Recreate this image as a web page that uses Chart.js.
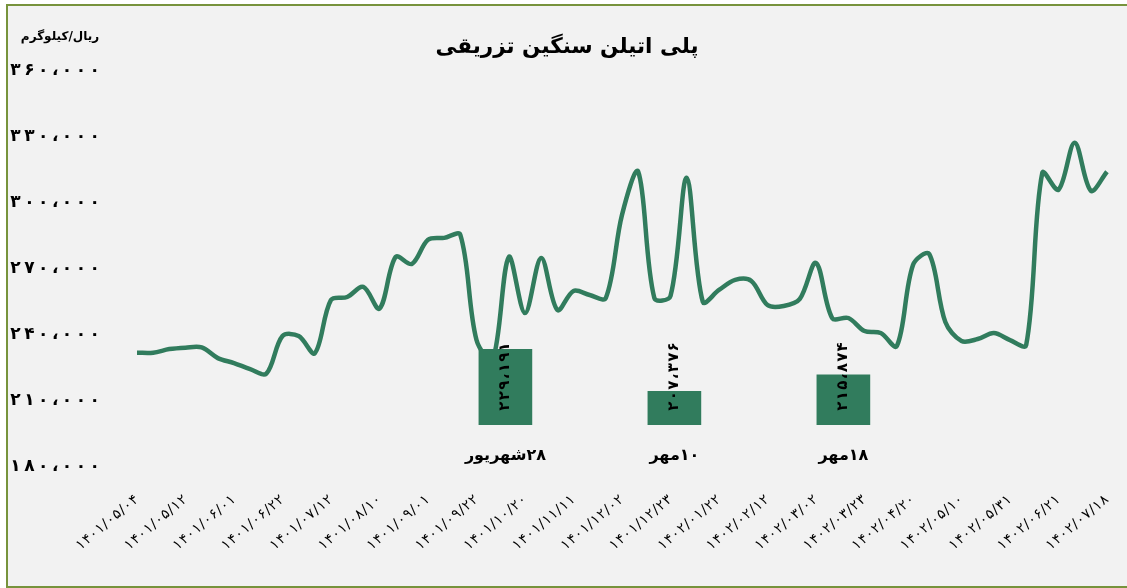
<!DOCTYPE html>
<html>
<head>
<meta charset="utf-8">
<script src="https://cdn.jsdelivr.net/npm/chart.js@4"></script>
<style>
  html, body { margin: 0; padding: 0; background: #fff; }
  .frame { position: absolute; left: 6px; top: 4px; width: 1140px; height: 580px; border: 2px solid #77933c; background: #f2f2f2; }
  #wrap { position: absolute; left: 0; top: 0; width: 1127px; height: 588px; }
</style>
</head>
<body>
<div class="frame"></div>
<div id="wrap"><canvas id="chart"></canvas></div>
<script>
// تاریخ‌های محور افقی (هر سه نقطه یک برچسب)
const dates = [
  '۱۴۰۱/۰۵/۰۴', '۱۴۰۱/۰۵/۱۲', '۱۴۰۱/۰۶/۰۱', '۱۴۰۱/۰۶/۲۲', '۱۴۰۱/۰۷/۱۲',
  '۱۴۰۱/۰۸/۱۰', '۱۴۰۱/۰۹/۰۱', '۱۴۰۱/۰۹/۲۲', '۱۴۰۱/۱۰/۲۰', '۱۴۰۱/۱۱/۱۱',
  '۱۴۰۱/۱۲/۰۲', '۱۴۰۱/۱۲/۲۳', '۱۴۰۲/۰۱/۲۲', '۱۴۰۲/۰۲/۱۲', '۱۴۰۲/۰۳/۰۲',
  '۱۴۰۲/۰۳/۲۳', '۱۴۰۲/۰۴/۲۰', '۱۴۰۲/۰۵/۱۰', '۱۴۰۲/۰۵/۳۱', '۱۴۰۲/۰۶/۲۱',
  '۱۴۰۲/۰۷/۱۸'
];

// قیمت (ریال/کیلوگرم)
const prices = [
  231900, 231900, 233550, 234200, 234300, 229450, 227200, 224450, 222400, 239450,
  239450, 231700, 255850, 257200, 261750, 251950, 275400, 272200, 283150, 284050,
  285400, 237650, 228550, 275400, 249900, 274950, 251300, 259950, 258100, 256750,
  294500, 314100, 256750, 257650, 311350, 254950, 260400, 264950, 264500, 253550,
  253100, 256300, 272700, 247650, 247650, 241750, 240850, 234900, 271750, 276750,
  245850, 237200, 238100, 240850, 237650, 235350, 313600, 305900, 327250, 305450,
  314100
];

// ستون‌های مقایسه
const barDates = ['۲۸شهریور', '۱۰مهر', '۱۸مهر'];
const barValues = [229191, 207376, 215874];
const barBase = 190000;

const yTicks = { min: 180000, max: 360000, step: 30000 };

const green = '#317c5d';
const fa = "'DejaVu Sans', sans-serif";

function toFa(n) {
  return n.toLocaleString('en-US')
    .replace(/\d/g, d => '۰۱۲۳۴۵۶۷۸۹'[d])
    .replace(/,/g, '،');
}

// متن عددی با فاصله بین حروف
function drawSpaced(ctx, text, x, y, gap, align) {
  const chars = Array.from(text);
  const widths = chars.map(c => ctx.measureText(c).width);
  const total = widths.reduce((a, b) => a + b, 0) + gap * (chars.length - 1);
  let cx = align === 'right' ? x - total : align === 'center' ? x - total / 2 : x;
  ctx.save();
  ctx.textAlign = 'left';
  chars.forEach((c, i) => { ctx.fillText(c, cx, y); cx += widths[i] + gap; });
  ctx.restore();
}

const labels = prices.map((p, i) => i % 3 === 0 ? dates[i / 3] : '');

// برچسب ستون‌ها و واحد
const barText = {
  id: 'barText',
  afterDatasetsDraw(chart) {
    const ctx = chart.ctx;
    const meta = chart.getDatasetMeta(1);
    ctx.save();
    ctx.fillStyle = '#000';
    meta.data.forEach((bar, i) => {
      ctx.save();
      ctx.translate(bar.x, bar.base - 14);
      ctx.rotate(-Math.PI / 2);
      ctx.font = 'bold 15px ' + fa;
      ctx.textBaseline = 'middle';
      drawSpaced(ctx, toFa(barValues[i]), 0, 0, 1.3, 'left');
      ctx.restore();

      ctx.font = 'bold 16px ' + fa;
      ctx.direction = 'rtl';
      ctx.textAlign = 'center';
      ctx.textBaseline = 'middle';
      ctx.fillText(barDates[i], bar.x, bar.base + 31);
    });
    ctx.font = 'bold 12px ' + fa;
    ctx.direction = 'rtl';
    ctx.textAlign = 'center';
    ctx.textBaseline = 'middle';
    ctx.fillText('ریال/کیلوگرم', 60, 37);
    ctx.restore();
  }
};

// برچسب محورها
const axisText = {
  id: 'axisText',
  afterDraw(chart) {
    const ctx = chart.ctx;
    const xs = chart.scales.x, ys = chart.scales.y;
    ctx.save();
    ctx.fillStyle = '#000';
    ctx.textBaseline = 'middle';
    ctx.font = 'bold 17px ' + fa;
    ys.ticks.forEach(t => drawSpaced(ctx, toFa(t.value), ys.right - 37, ys.getPixelForValue(t.value), 3.5, 'right'));
    ctx.font = '14px ' + fa;
    xs.ticks.forEach((t, i) => {
      const lab = xs.getLabelForValue(t.value);
      if (!lab) return;
      ctx.save();
      ctx.translate(xs.getPixelForTick(i), xs.top + 31);
      ctx.rotate(-40 * Math.PI / 180);
      drawSpaced(ctx, lab, 0, 0, 0.8, 'right');
      ctx.restore();
    });
    ctx.restore();
  }
};

Chart.defaults.font.family = fa;
Chart.defaults.color = '#000';

new Chart(document.getElementById('chart'), {
  type: 'line',
  data: {
    labels: labels,
    datasets: [
      {
        data: prices,
        borderColor: green,
        borderWidth: 4.5,
        pointRadius: 0,
        tension: 0.33,
        fill: false,
        order: 1
      },
      {
        type: 'bar',
        data: barValues.map((v, i) => ({ x: i, y: v })),
        base: barBase,
        backgroundColor: green,
        barThickness: 53,
        grouped: false,
        xAxisID: 'x2',
        yAxisID: 'y2',
        order: 0
      }
    ]
  },
  options: {
    responsive: true,
    maintainAspectRatio: false,
    animation: false,
    layout: { padding: { left: 27, right: 20, top: 35, bottom: 6 } },
    plugins: {
      legend: { display: false },
      tooltip: { enabled: false },
      title: {
        display: true,
        text: 'پلی اتیلن سنگین تزریقی',
        font: { size: 21.5, weight: 'bold' },
        color: '#000',
        padding: { top: 0, bottom: 9.8 }
      }
    },
    scales: {
      x: {
        grid: { display: false },
        border: { display: false },
        ticks: { autoSkip: false, display: false },
        afterFit: s => { s.height = 115; }
      },
      y: {
        min: yTicks.min,
        max: yTicks.max,
        grid: { display: false },
        border: { display: false },
        ticks: { stepSize: yTicks.step, display: false },
        afterFit: s => { s.width = 110; }
      },
      x2: {
        type: 'linear', position: 'bottom', offset: false, min: -2.18, max: 3.56,
        grid: { display: false }, border: { display: false }, ticks: { display: false },
        afterFit: s => { s.height = 0; }
      },
      y2: { type: 'linear', display: false, min: 168000, max: 374000 }
    }
  },
  plugins: [barText, axisText]
});
</script>
</body>
</html>
